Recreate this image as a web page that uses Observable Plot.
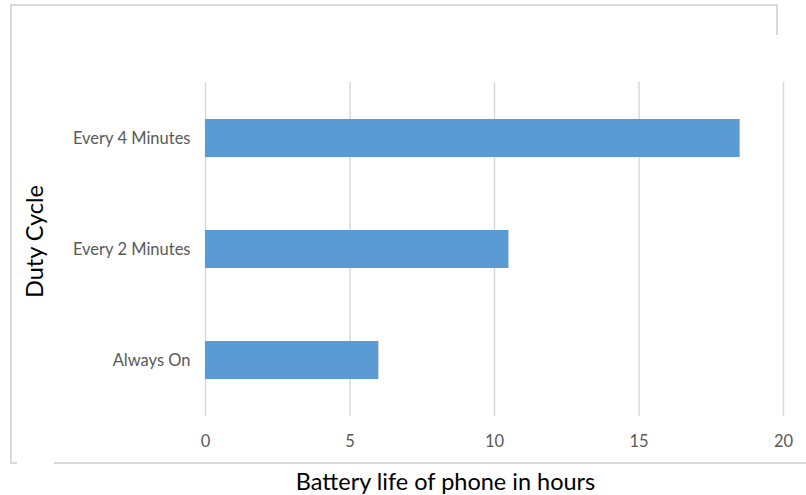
<!DOCTYPE html>
<html>
<head>
<meta charset="utf-8">
<script src="https://cdn.jsdelivr.net/npm/d3@7"></script>
<script src="https://cdn.jsdelivr.net/npm/@observablehq/plot@0.6"></script>
<style>
  body { margin: 0; background: #fff; }
  #wrap { position: relative; width: 806px; height: 495px; overflow: hidden; }
  #wrap svg { position: absolute; left: 0; top: 0; }
  .ln { position: absolute; background: #d9d9d9; }
</style>
</head>
<body>
<div id="wrap">
  <div class="ln" style="left:10px;top:4px;width:768px;height:2px;"></div>
  <div class="ln" style="left:10px;top:4px;width:2px;height:460px;"></div>
  <div class="ln" style="left:776px;top:4px;width:2px;height:31px;"></div>
  <div class="ln" style="left:10px;top:462px;width:7px;height:2px;"></div>
  <div class="ln" style="left:54px;top:462px;width:752px;height:2px;"></div>
</div>
<script>
const categories = ["Every 4 Minutes", "Every 2 Minutes", "Always On"];
const hours = [18.5, 10.5, 6.0];
const xTicks = [0, 5, 10, 15, 20];
const xTitle = "Battery life of phone in hours";
const yTitle = "Duty Cycle";

const data = categories.map((c, i) => ({cycle: c, hours: hours[i]}));

const chart = Plot.plot({
  width: 806,
  height: 495,
  marginLeft: 205,
  marginRight: 23,
  marginTop: 82,
  marginBottom: 79,
  style: {fontFamily: "Lato, sans-serif", background: "transparent"},
  x: {domain: [0, 20], ticks: xTicks},
  y: {domain: categories, paddingInner: 0.66, paddingOuter: 0.33, align: 0.5},
  marks: [
    Plot.gridX(xTicks, {stroke: "#d9d9d9", strokeOpacity: 1, strokeWidth: 1.5}),
    Plot.barX(data, {x: "hours", y: "cycle", fill: "#5b9bd5"}),
    Plot.axisX(xTicks, {tickSize: 0, tickPadding: 19, fontSize: 16.5, color: "#595959", label: null}),
    Plot.axisY({tickSize: 0, tickPadding: 15, fontSize: 16.5, color: "#595959", label: null}),
    Plot.text([xTitle], {frameAnchor: "bottom", dx: -49, dy: 73, fontSize: 23.5, fill: "#000"}),
    Plot.text([yTitle], {frameAnchor: "left", textAnchor: "middle", dx: -170, dy: -8, rotate: -90, fontSize: 23.5, fill: "#000"})
  ]
});
document.getElementById("wrap").appendChild(chart);
</script>
</body>
</html>
